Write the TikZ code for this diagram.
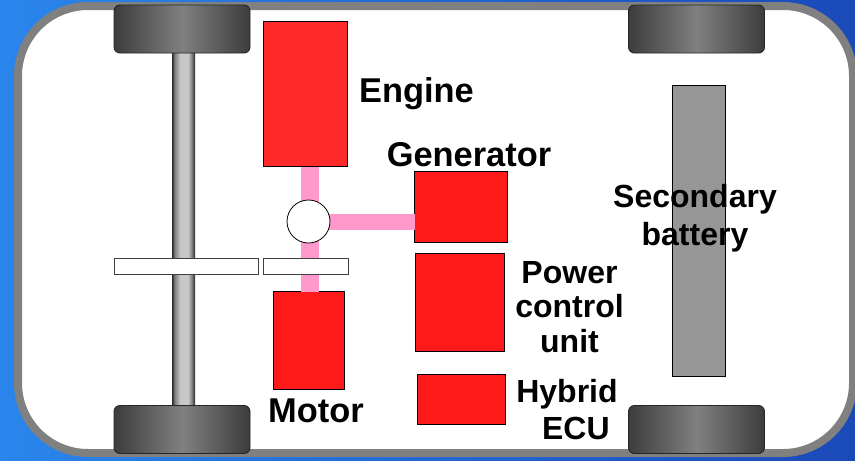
\documentclass[tikz,border=0pt]{standalone}
\usepackage{fontspec}
\setmainfont{Liberation Sans}
\definecolor{bgL}{HTML}{2A86EC}
\definecolor{bgR}{HTML}{1A4AB8}
\definecolor{frameC}{HTML}{808080}
\definecolor{redA}{HTML}{FF2A2A}
\definecolor{redB}{HTML}{FF1A1A}
\definecolor{pinkC}{HTML}{FF99CC}
\definecolor{batC}{HTML}{969696}
\definecolor{wheelD}{HTML}{3C3C3C}
\definecolor{wheelL}{HTML}{808080}
\definecolor{axleD}{HTML}{282828}
\definecolor{axleL}{HTML}{C8C8C8}
\pgfdeclarehorizontalshading{axleshade}{100bp}{
 color(0bp)=(axleD); color(25bp)=(axleD); color(31bp)=(axleD!45!axleL); color(43bp)=(axleL); color(60bp)=(axleL); color(68bp)=(axleD!45!axleL); color(75bp)=(axleD); color(100bp)=(axleD)}
\tikzset{
 block/.style={draw=black,line width=0.8pt,inner sep=0pt,outer sep=0pt},
 redbox/.style={block,fill=redB},
 wheelbox/.style={draw=black!85,line width=0.9pt,rounded corners=6pt,inner sep=0pt,outer sep=0pt,
   minimum width=136pt,minimum height=48pt,left color=wheelD,right color=wheelD,middle color=wheelL},
 barbox/.style={draw=black!75,line width=0.9pt,fill=white,inner sep=0pt,outer sep=0pt,minimum height=16pt},
 lbl/.style={font=\bfseries\fontsize{32}{37}\selectfont,align=center,inner sep=0pt,text=black},
 lblbig/.style={lbl,font=\bfseries\fontsize{34.4}{38}\selectfont},
 link/.style={draw=pinkC}
}
\begin{document}
\begin{tikzpicture}[x=1pt,y=-1pt]
\useasboundingbox (0,0) rectangle (855,461);
\shade[left color=bgL,right color=bgR] (0,0) rectangle (855,461);
\draw[frameC,fill=white,line width=8pt,rounded corners=70pt] (18,6) rectangle (853,453);
% axle
\node[inner sep=0pt,outer sep=0pt,minimum width=23pt,minimum height=353pt,shading=axleshade] (axle) at (183.5,229.5) {};
% wheels
\node[wheelbox] (wtl) at (182,29) {};
\node[wheelbox] (wbl) at (182,429.5) {};
\node[wheelbox] (wtr) at (696.5,29) {};
\node[wheelbox] (wbr) at (696.5,429.5) {};
% main components
\node[block,fill=redA,minimum width=84pt,minimum height=145pt] (engine) at (305.5,94) {};
\node[redbox,minimum width=93pt,minimum height=71pt] (generator) at (461,207) {};
\node[redbox,minimum width=89pt,minimum height=98pt] (pcu) at (460,302.8) {};
\node[redbox,minimum width=88pt,minimum height=50pt] (ecu) at (461.5,399.5) {};
\node[redbox,minimum width=71pt,minimum height=98pt] (motor) at (309,340.5) {};
\node[block,fill=batC,minimum width=53pt,minimum height=291pt] (battery) at (698.5,230.5) {};
% planetary gear and links
\coordinate (shaft) at (310,221.5);
\coordinate (gearC) at (308.5,221.5);
\path[link,line width=18pt] (shaft |- engine.south) -- (shaft |- motor.north);
\path[link,line width=16pt] (gearC) -- (gearC -| generator.west);
\node[draw=black,line width=0.8pt,fill=white,circle,minimum size=43pt,inner sep=0pt,outer sep=0pt] (gear) at (gearC) {};
% bars
\node[barbox,minimum width=144pt] (barL) at (186,266.7) {};
\node[barbox,minimum width=85pt] (barR) at (305.5,266.7) {};
% labels
\node[lblbig] (tEngine) at (416.5,93.5) {Engine};
\node[lblbig] (tGen) at (469,155) {Generator};
\node[lbl,font=\bfseries\fontsize{32}{38}\selectfont] (tBat) at (695,218) {Secondary\\battery};
\node[lbl,font=\bfseries\fontsize{32}{34.5}\selectfont] (tPcu) at (569.5,307) {Power\\control\\unit};
\node[lbl] (tEcu) at (567,410) {Hybrid\\\ \ ECU};
\node[lblbig] (tMotor) at (316,411) {Motor};
\end{tikzpicture}
\end{document}
